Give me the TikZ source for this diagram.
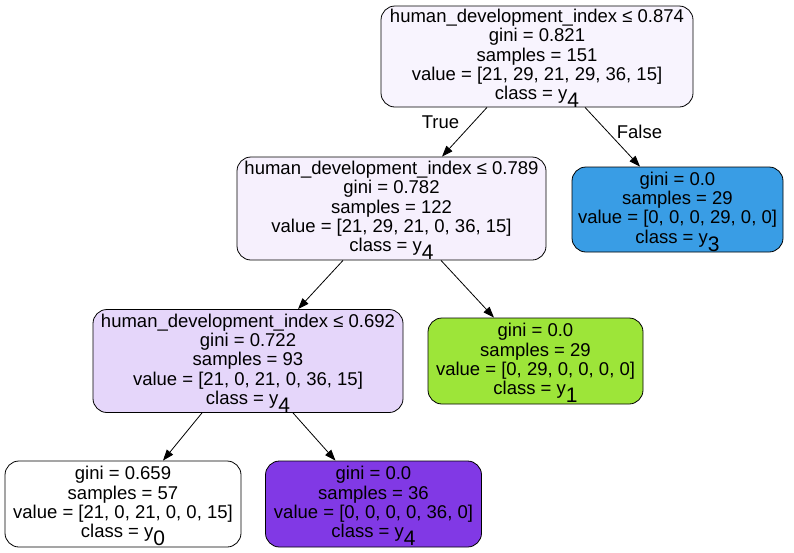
\documentclass[tikz,border=0pt]{standalone}
\usepackage{fontspec}
\setmainfont{Liberation Sans}
\usetikzlibrary{arrows.meta}
\definecolor{rootfill}{HTML}{F8F4FE}
\definecolor{lowfill}{HTML}{F6F0FD}
\definecolor{midfill}{HTML}{E5D6FA}
\definecolor{yblue}{HTML}{399DE5}
\definecolor{ygreen}{HTML}{9DE539}
\definecolor{ypurple}{HTML}{8139E5}
\newcommand{\cls}[1]{class = y\smash{\raisebox{-8pt}{\fontsize{21}{21}\selectfont #1}}}

\begin{document}
\begin{tikzpicture}[x=1pt,y=-1pt,
    box/.style={draw=black,line width=0.8pt,rounded corners=14pt,align=center,inner sep=0pt,
      font=\fontsize{18.5}{19.3}\selectfont},
    edge/.style={-{Triangle[length=11pt,width=8pt]},line width=0.8pt},
    lbl/.style={font=\fontsize{18.5}{19.3}\selectfont}]
  \useasboundingbox (0,0) rectangle (794,552);
  \node[box,fill=rootfill,minimum width=312pt,minimum height=101pt] (root) at (537,56.5)
    {human\_development\_index ≤ 0.874\\gini = 0.821\\samples = 151\\value = [21, 29, 21, 29, 36, 15]\\\cls{4}};
  \node[box,fill=lowfill,minimum width=309pt,minimum height=103pt] (hdi789) at (391.5,208.5)
    {human\_development\_index ≤ 0.789\\gini = 0.782\\samples = 122\\value = [21, 29, 21, 0, 36, 15]\\\cls{4}};
  \node[box,fill=yblue,minimum width=211pt,minimum height=85pt] (leaf3) at (677.5,209.5)
    {gini = 0.0\\samples = 29\\value = [0, 0, 0, 29, 0, 0]\\\cls{3}};
  \node[box,fill=midfill,minimum width=310pt,minimum height=103pt] (hdi692) at (248,361)
    {human\_development\_index ≤ 0.692\\gini = 0.722\\samples = 93\\value = [21, 0, 21, 0, 36, 15]\\\cls{4}};
  \node[box,fill=ygreen,minimum width=215pt,minimum height=86pt] (leaf1) at (535.5,361)
    {gini = 0.0\\samples = 29\\value = [0, 29, 0, 0, 0, 0]\\\cls{1}};
  \node[box,fill=white,minimum width=236pt,minimum height=86pt] (leaf0) at (123,504)
    {gini = 0.659\\samples = 57\\value = [21, 0, 21, 0, 0, 15]\\\cls{0}};
  \node[box,fill=ypurple,minimum width=216pt,minimum height=86pt] (leaf4) at (373.5,504)
    {gini = 0.0\\samples = 36\\value = [0, 0, 0, 0, 36, 0]\\\cls{4}};

  \draw[edge] ([xshift=-50pt]root.south) -- node[lbl,xshift=-24pt,yshift=10pt] {True} ([xshift=50.5pt]hdi789.north);
  \draw[edge] ([xshift=48pt]root.south) -- node[lbl,xshift=27pt,yshift=5pt] {False} ([xshift=-37.5pt]leaf3.north);
  \draw[edge] ([xshift=-48.5pt]hdi789.south) -- ([xshift=50pt]hdi692.north);
  \draw[edge] ([xshift=49.5pt]hdi789.south) -- ([xshift=-41.5pt]leaf1.north);
  \draw[edge] ([xshift=-46pt]hdi692.south) -- ([xshift=40pt]leaf0.north);
  \draw[edge] ([xshift=45pt]hdi692.south) -- ([xshift=-38pt]leaf4.north);
\end{tikzpicture}
\end{document}
